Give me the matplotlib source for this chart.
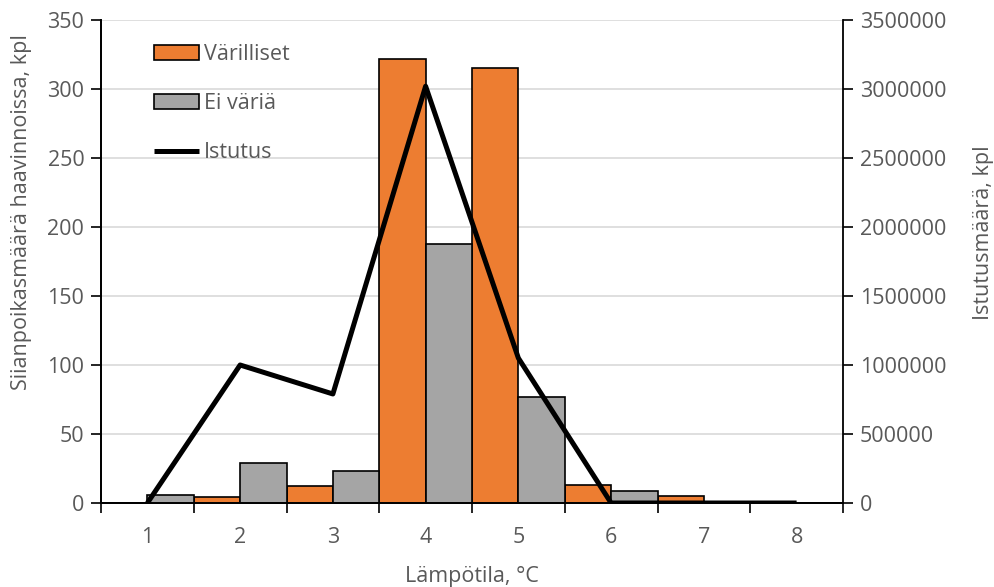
import numpy as np
import matplotlib.pyplot as plt

# Data
temps = [1, 2, 3, 4, 5, 6, 7, 8]
varilliset = [0, 4.5, 12, 322, 315, 13, 5, 0]
ei_varia = [5.5, 29, 23, 188, 77, 9, 0, 0]
istutus = [0, 1000000, 790000, 3020000, 1050000, 0, 0, 0]

txt_col = "#595959"
fs = 15.5
plt.rcParams['font.family'] = ['Open Sans', 'DejaVu Sans']

fig = plt.figure(figsize=(9.95, 5.87), dpi=100)
ax = fig.add_axes([101/995, 1-503/587, (843-101)/995, (503-20)/587])
ax2 = ax.twinx()

x = np.arange(len(temps)) + 1
w = 0.5
ax.bar(x - w/2, varilliset, w, color="#ED7D31", edgecolor="black", lw=1.2, label="Värilliset", zorder=3)
ax.bar(x + w/2, ei_varia, w, color="#A5A5A5", edgecolor="black", lw=1.2, label="Ei väriä", zorder=3)
ax2.plot(x, istutus, color="black", lw=3.6, label="Istutus", solid_capstyle="butt")

ax.set_xlim(0.5, 8.5)
ax.set_ylim(0, 350)
ax2.set_ylim(0, 3500000)
ax.set_yticks(np.arange(0, 351, 50))
ax2.set_yticks(np.arange(0, 3500001, 500000))
ax2.ticklabel_format(axis="y", style="plain")
ax.grid(axis="y", color="#d9d9d9", lw=1.2, zorder=0)

# category ticks between categories, labels in the middle
ax.set_xticks(np.arange(0.5, 8.6, 1))
ax.set_xticklabels([])
ax.set_xticks(x, minor=True)
ax.set_xticklabels([str(t) for t in temps], minor=True)
ax.tick_params(axis="x", which="minor", length=0, pad=17, labelsize=fs, labelcolor=txt_col)
ax.tick_params(axis="x", which="major", length=7, width=1.2, direction="out")
ax.tick_params(axis="y", length=7, width=1.2, labelsize=fs, labelcolor=txt_col, pad=5)
ax2.tick_params(axis="y", length=7, width=1.2, labelsize=fs, labelcolor=txt_col, pad=5)

for a in (ax, ax2):
    a.spines["top"].set_visible(False)
    for s in ("left", "right", "bottom"):
        a.spines[s].set_linewidth(1.3)
ax.spines["right"].set_visible(False)

ax.set_xlabel("Lämpötila, °C", fontsize=fs, color=txt_col, va="center")
ax.xaxis.set_label_coords(0.5, -0.153)
ax.set_ylabel("Siianpoikasmäärä haavinnoissa, kpl", fontsize=fs, color=txt_col, va="center")
ax.yaxis.set_label_coords(-0.107, 0.602)
ax2.set_ylabel("Istutusmäärä, kpl", fontsize=fs, color=txt_col, va="center", rotation=90)
ax2.yaxis.set_label_coords(1.189, 0.559)

ax2.patch.set_visible(False)

h1, l1 = ax.get_legend_handles_labels()
h2, l2 = ax2.get_legend_handles_labels()
ax2.legend(h1 + h2, l1 + l2, loc="upper left", bbox_to_anchor=(0.071, 0.95), frameon=False,
           borderpad=0, borderaxespad=0, fontsize=fs, labelcolor=txt_col,
           handlelength=2.1, handleheight=0.7, handletextpad=0.25, labelspacing=1.3)

fig.savefig("out.png", dpi=100)
